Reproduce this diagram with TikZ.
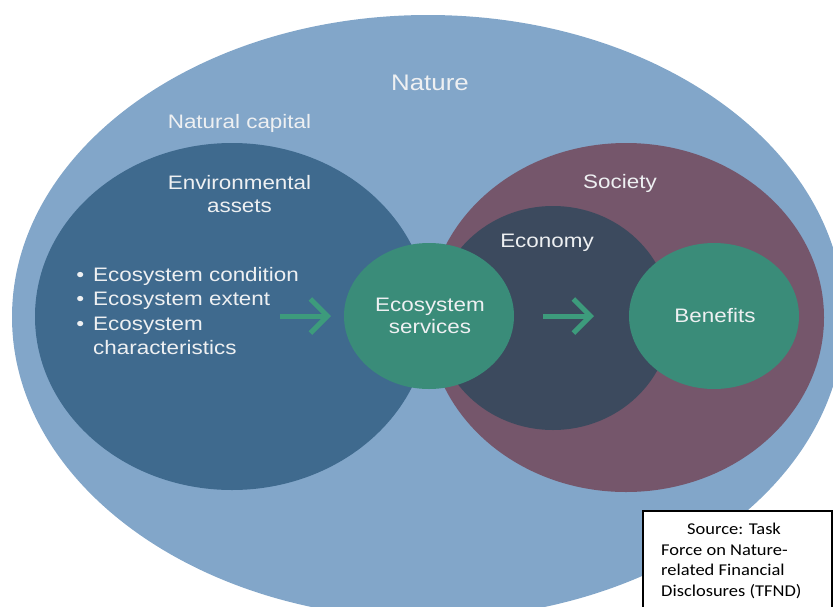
\documentclass[tikz,border=0pt]{standalone}
\usepackage{fontspec}
\setmainfont{Liberation Sans}[FakeStretch=1.15]
\newfontfamily\srcfont{Carlito}[FakeStretch=1.12]
\usetikzlibrary{shapes.geometric,arrows.meta}
\definecolor{naturec}{HTML}{82A6C9}
\definecolor{envc}{HTML}{3F6A8E}
\definecolor{socc}{HTML}{75566B}
\definecolor{econc}{HTML}{3C4A5E}
\definecolor{greenc}{HTML}{3A8C79}
\definecolor{arrowc}{HTML}{3D9B7C}
\definecolor{txtc}{HTML}{EEF0F2}
\begin{document}
\begin{tikzpicture}[x=1pt,y=-1pt,
  blob/.style={ellipse, inner sep=0pt, outer sep=0pt},
  lbl/.style={text=txtc, inner sep=0pt, anchor=base},
  bodyfont/.style={font=\fontsize{19.5}{24}\selectfont},
  flow/.style={draw=arrowc, line width=5pt, -{Straight Barb[length=17pt,width=34pt]}},
  srcline/.style={inner sep=0pt, anchor=base west, font=\srcfont\fontsize{16.5}{20}\selectfont}]
\useasboundingbox (0,0) rectangle (833,606);
% ellipses
\node[blob, fill=naturec, minimum width=832pt, minimum height=604pt] (nature) at (428,317) {};
\node[blob, fill=envc, minimum width=394pt, minimum height=347pt] (env) at (232,316.5) {};
\node[blob, fill=socc, minimum width=396pt, minimum height=349pt] (soc) at (626,317.5) {};
\node[blob, fill=econc, minimum width=236pt, minimum height=224pt] (econ) at (553,318) {};
\node[blob, fill=greenc, minimum width=170pt, minimum height=146pt] (ess) at (429,316) {};
\node[blob, fill=greenc, minimum width=170pt, minimum height=146pt] (ben) at (714,316) {};
% labels
\node[lbl, font=\fontsize{22.5}{27}\selectfont] (tnature) at (430,90) {Nature};
\node[lbl, bodyfont] (tcap) at (239.5,128) {Natural capital};
\node[lbl, bodyfont] (tenv1) at (239.5,189) {Environmental};
\node[lbl, bodyfont] (tenv2) at (239.5,212) {assets};
\node[lbl, bodyfont] (tsoc) at (620,188) {Society};
\node[lbl, bodyfont] (tecon) at (547,247) {Economy};
\node[lbl, bodyfont] (tess1) at (430,311) {Ecosystem};
\node[lbl, bodyfont] (tess2) at (430,333) {services};
\node[lbl, bodyfont] (tben) at (715,322) {Benefits};
\node[lbl, bodyfont, anchor=base west] (b1) at (93,281) {\llap{\textbullet\hspace{9pt}}Ecosystem condition};
\node[lbl, bodyfont, anchor=base west] (b2) at (93,305.5) {\llap{\textbullet\hspace{9pt}}Ecosystem extent};
\node[lbl, bodyfont, anchor=base west] (b3) at (93,330) {\llap{\textbullet\hspace{9pt}}Ecosystem};
\node[lbl, bodyfont, anchor=base west] (b4) at (93,354.5) {characteristics};
% arrows
\coordinate (a1s) at (280,316);
\coordinate (a1e) at (331,316);
\coordinate (a2s) at (543,316);
\coordinate (a2e) at (594,316);
\draw[flow] (a1s) -- (a1e);
\draw[flow] (a2s) -- (a2e);
% source box
\node[draw=black, line width=1.3pt, fill=white, anchor=north west, outer sep=0pt, inner sep=0pt,
      minimum width=189pt, minimum height=100pt] (srcbox) at (643,511) {};
\node[srcline] (s1) at (687,534) {Source: Task};
\node[srcline] (s2) at (661,555) {Force on Nature-};
\node[srcline] (s3) at (661,575.5) {related Financial};
\node[srcline] (s4) at (661,596) {Disclosures (TFND)};
\end{tikzpicture}
\end{document}
